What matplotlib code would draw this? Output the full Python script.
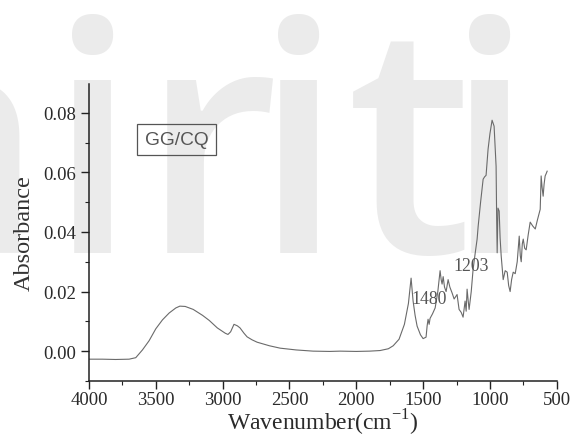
import matplotlib
matplotlib.use("Agg")
import matplotlib.pyplot as plt
from matplotlib.ticker import MultipleLocator, FormatStrFormatter

# ---- data ----
wavenumber = [4000, 3900, 3800, 3700, 3650, 3600, 3550, 3500, 3450, 3400, 3350, 3320,
              3280, 3220, 3150, 3100, 3040, 2980, 2960, 2940, 2915, 2890, 2870, 2840,
              2817, 2780, 2742, 2650, 2570, 2450, 2323, 2200, 2121, 2000, 1900, 1822,
              1760, 1724, 1680, 1640, 1610, 1590, 1575, 1560, 1545, 1520, 1500, 1478,
              1470, 1463, 1455, 1448, 1430, 1410, 1390, 1373, 1365, 1358, 1350, 1340,
              1328, 1313, 1300, 1283, 1268, 1246, 1231, 1215, 1201, 1186, 1178, 1171,
              1163, 1156, 1140, 1126, 1110, 1096, 1088, 1070, 1051, 1040, 1029, 1014,
              1000, 984, 969, 954, 950, 946, 940, 931, 924, 916, 901, 886, 871, 860,
              849, 838, 826, 811, 796, 781, 773, 766, 758, 751, 740, 729, 714, 699,
              680, 661, 645, 624, 617, 610, 602, 595, 587, 580, 572]
absorbance = [-0.0027, -0.0027, -0.0028, -0.0027, -0.0022, 0.0004, 0.0035, 0.0075, 0.0105,
              0.0128, 0.0145, 0.0151, 0.0150, 0.0140, 0.0120, 0.0103, 0.0078, 0.0060,
              0.0056, 0.0065, 0.0090, 0.0085, 0.0078, 0.0060, 0.0048, 0.0038, 0.0030,
              0.0018, 0.0010, 0.0004, 0.0000, -0.0001, 0.0000, -0.0001, 0.0000, 0.0002,
              0.0008, 0.0018, 0.0040, 0.0090, 0.0160, 0.0245, 0.0168, 0.0120, 0.0084,
              0.0055, 0.0042, 0.0047, 0.0085, 0.0107, 0.0090, 0.0110, 0.0125, 0.0145,
              0.0200, 0.0270, 0.0240, 0.0225, 0.0250, 0.0215, 0.0200, 0.0240, 0.0215,
              0.0195, 0.0175, 0.0190, 0.0140, 0.0130, 0.0114, 0.0168, 0.0134, 0.0208,
              0.0170, 0.0140, 0.0200, 0.0275, 0.0330, 0.0376, 0.0420, 0.0500, 0.0577,
              0.0585, 0.0590, 0.0678, 0.0730, 0.0775, 0.0755, 0.0620, 0.0450, 0.0330,
              0.0480, 0.0470, 0.0380, 0.0320, 0.0240, 0.0270, 0.0265, 0.0220, 0.0200,
              0.0240, 0.0265, 0.0260, 0.0300, 0.0386, 0.0320, 0.0300, 0.0360, 0.0376,
              0.0345, 0.0340, 0.0390, 0.0433, 0.0420, 0.0410, 0.0440, 0.0476, 0.0588,
              0.0550, 0.0520, 0.0560, 0.0588, 0.0595, 0.0604]

peak_labels = ["1480", "1203"]
peak_label_x = [1455, 1141]
peak_label_y = [0.0175, 0.0289]

sample_name = "GG/CQ"
x_ticks = [4000, 3500, 3000, 2500, 2000, 1500, 1000, 500]
y_ticks = [0.00, 0.02, 0.04, 0.06, 0.08]

# ---- figure ----
fig = plt.figure(figsize=(5.74, 4.39), dpi=100)

# background watermark
wm_color = "#ebebeb"
wm_kw = dict(family="Open Sans", weight="semibold", fontsize=230, color=wm_color,
             va="baseline", zorder=-10)
fig.text(0.078, 0.424, "a", ha="right", **wm_kw)
fig.text(0.162, 0.424, "i", ha="center", **wm_kw)
fig.text(0.245, 0.424, "r", ha="left", **wm_kw)
fig.text(0.520, 0.424, "i", ha="center", **wm_kw)
fig.text(0.605, 0.424, "t", ha="left", **wm_kw)
fig.text(0.853, 0.424, "i", ha="center", **wm_kw)

ax = fig.add_axes([0.155, 0.130, 0.815, 0.676])
ax.set_facecolor("none")

ax.plot(wavenumber, absorbance, color="#6a6a6a", lw=0.8)

ax.set_xlim(4000, 500)
ax.set_ylim(-0.01, 0.0896)

serif = "Liberation Serif"
ax.set_xticks(x_ticks)
ax.set_yticks(y_ticks)
ax.xaxis.set_minor_locator(MultipleLocator(250))
ax.yaxis.set_minor_locator(MultipleLocator(0.01))
ax.yaxis.set_major_formatter(FormatStrFormatter("%.2f"))

ax.tick_params(which="major", direction="out", length=6, width=1, color="#222222",
               labelsize=13.5, labelcolor="#2a2a2a")
ax.tick_params(axis="x", which="major", pad=1.5)
ax.tick_params(which="minor", direction="out", length=3, width=0.8, color="#222222")
for lab in ax.get_xticklabels() + ax.get_yticklabels():
    lab.set_family(serif)

for s in ["top", "right"]:
    ax.spines[s].set_visible(False)
for s in ["left", "bottom"]:
    ax.spines[s].set_linewidth(1.1)
    ax.spines[s].set_color("#222222")

ax.set_xlabel("Wavenumber(cm$^{\\mathregular{-1}}$)", family=serif, fontsize=17,
              color="#2a2a2a", labelpad=-1)
ax.set_ylabel("Absorbance", family=serif, fontsize=17.5, color="#333333", labelpad=6)

ax.text(0.187, 0.813, sample_name, transform=ax.transAxes, ha="center", va="center",
        family="Liberation Sans", fontsize=13.8, color="#555555",
        bbox=dict(boxstyle="square,pad=0.38", fc="none", ec="#555555", lw=0.9))

for lab, lx, ly in zip(peak_labels, peak_label_x, peak_label_y):
    ax.text(lx, ly, lab, ha="center", va="center", family=serif, fontsize=12.8,
            color="#555555")

fig.savefig("out.png", dpi=100)
